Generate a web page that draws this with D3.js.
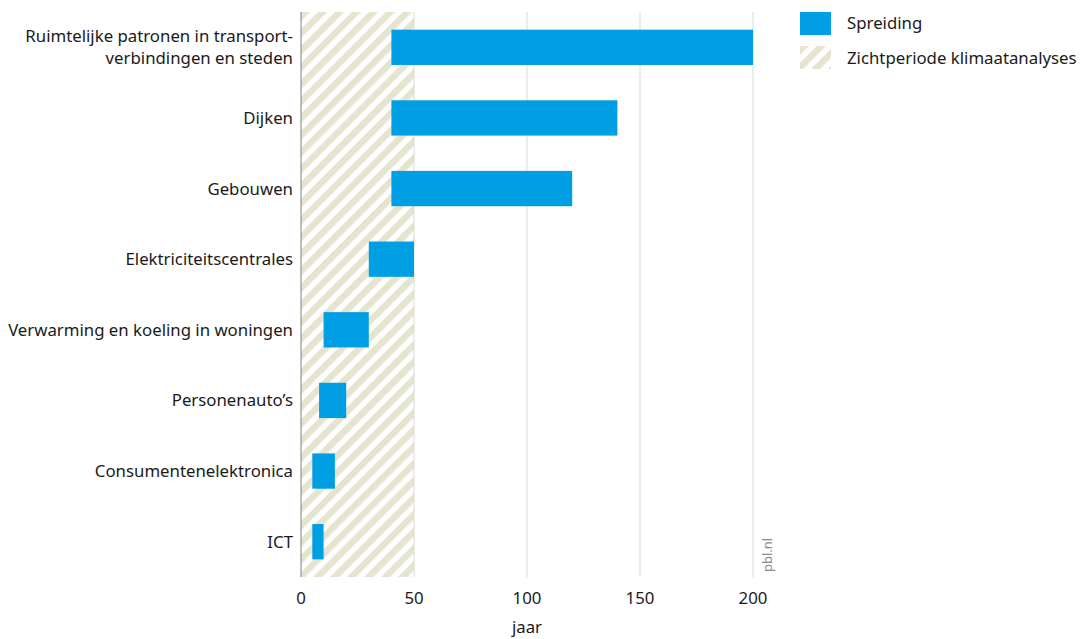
<!DOCTYPE html>
<html>
<head>
<meta charset="utf-8">
<script src="https://cdn.jsdelivr.net/npm/d3@7"></script>
<style>
  body { margin: 0; background: #fff; font-family: "Noto Sans", sans-serif; }
  text { fill: #1a1a1a; }
</style>
</head>
<body>
<script>
var categories = [
  "Ruimtelijke patronen in transport-|verbindingen en steden",
  "Dijken",
  "Gebouwen",
  "Elektriciteitscentrales",
  "Verwarming en koeling in woningen",
  "Personenauto\u2019s",
  "Consumentenelektronica",
  "ICT"
];
var spreadMin = [40, 40, 40, 30, 10, 8, 5, 5];
var spreadMax = [200, 140, 120, 50, 30, 20, 15, 10];
var xTicks = [0, 50, 100, 150, 200];
var horizon = 50;

var margin = {top: 12, left: 301, right: 330, bottom: 62};
var width = 1083 - margin.left - margin.right;
var height = 639 - margin.top - margin.bottom;
var fs = 16.8;

var svg = d3.select("body").append("svg")
    .attr("width", 1083)
    .attr("height", 639);

var defs = svg.append("defs");
var pat = defs.append("pattern")
    .attr("id", "hatch")
    .attr("patternUnits", "userSpaceOnUse")
    .attr("width", 12)
    .attr("height", 12)
    .attr("patternTransform", "rotate(45)");
pat.append("rect")
    .attr("width", 12).attr("height", 12)
    .attr("fill", "#ffffff");
pat.append("rect")
    .attr("width", 6.5).attr("height", 12)
    .attr("fill", "#e4e4cf");

var g = svg.append("g")
    .attr("transform", "translate(" + margin.left + "," + margin.top + ")");

var x = d3.scaleLinear()
    .domain([0, 200])
    .range([0, 452]);

var y = d3.scaleBand()
    .domain(categories)
    .range([0, height])
    .paddingInner(0.5)
    .paddingOuter(0.25);

// hatched horizon
g.append("rect")
    .attr("x", x(0))
    .attr("y", 0)
    .attr("width", x(horizon) - x(0))
    .attr("height", height)
    .attr("fill", "url(#hatch)");

// grid
g.selectAll(".grid")
    .data(xTicks.filter(function(d) { return d > 0; }))
    .enter().append("line")
    .attr("x1", function(d) { return x(d); })
    .attr("x2", function(d) { return x(d); })
    .attr("y1", 0)
    .attr("y2", height)
    .attr("stroke", "#d9d9d9")
    .attr("stroke-width", 1);

// bars
g.selectAll(".bar")
    .data(categories)
    .enter().append("rect")
    .attr("x", function(d, i) { return x(spreadMin[i]); })
    .attr("y", function(d) { return y(d); })
    .attr("width", function(d, i) { return x(spreadMax[i]) - x(spreadMin[i]); })
    .attr("height", y.bandwidth())
    .attr("fill", "#009fe3");

// left axis line
g.append("line")
    .attr("x1", 0).attr("x2", 0)
    .attr("y1", 0).attr("y2", height)
    .attr("stroke", "#808080")
    .attr("stroke-width", 1);

// category labels
var labels = g.selectAll(".cat")
    .data(categories)
    .enter().append("text")
    .attr("text-anchor", "end")
    .attr("font-size", fs)
    .attr("x", -8)
    .attr("y", function(d) { return y(d) + y.bandwidth() / 2; });

labels.each(function(d) {
  var parts = d.split("|");
  var t = d3.select(this);
  var start = -(parts.length - 1) * 11 + 6;
  parts.forEach(function(p, k) {
    t.append("tspan")
      .attr("x", -8)
      .attr("dy", k === 0 ? start : 22)
      .text(p);
  });
});

// x ticks
g.selectAll(".tick-label")
    .data(xTicks)
    .enter().append("text")
    .attr("x", function(d) { return x(d); })
    .attr("y", height + 27)
    .attr("text-anchor", "middle")
    .attr("font-size", fs)
    .text(function(d) { return d; });

g.append("text")
    .attr("x", x(100))
    .attr("y", height + 56)
    .attr("text-anchor", "middle")
    .attr("font-size", fs)
    .text("jaar");

// source
g.append("text")
    .attr("transform", "translate(" + (x(200) + 19) + "," + (height - 5) + ") rotate(-90)")
    .attr("font-size", 13)
    .style("fill", "#8c8c8c")
    .text("pbl.nl");

// legend
var legend = svg.append("g").attr("transform", "translate(800,12)");
legend.append("rect")
    .attr("width", 31).attr("height", 23)
    .attr("fill", "#009fe3");
legend.append("text")
    .attr("x", 47).attr("y", 17)
    .attr("font-size", fs)
    .text("Spreiding");
legend.append("rect")
    .attr("y", 34)
    .attr("width", 31).attr("height", 23)
    .attr("fill", "url(#hatch)");
legend.append("text")
    .attr("x", 47).attr("y", 52)
    .attr("font-size", fs)
    .text("Zichtperiode klimaatanalyses");
</script>
</body>
</html>
